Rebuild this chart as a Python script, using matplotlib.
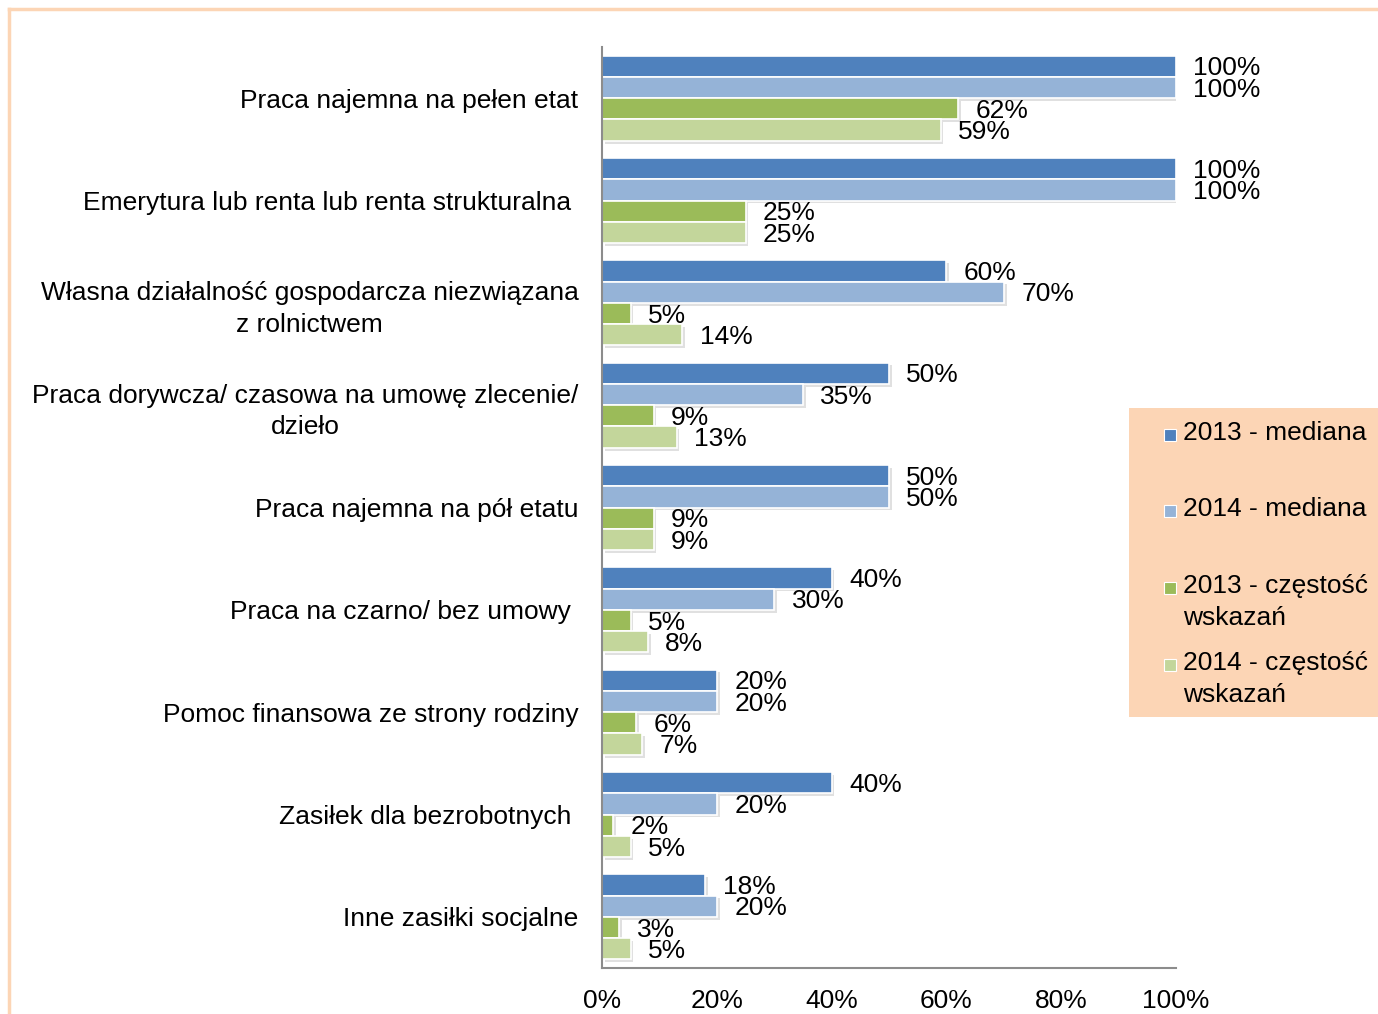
import numpy as np
import matplotlib
matplotlib.use("Agg")
import matplotlib.pyplot as plt
import matplotlib.patheffects as pe
from matplotlib.patches import Rectangle
from matplotlib.lines import Line2D

plt.rcParams['font.family'] = ['Liberation Sans', 'DejaVu Sans']

# data
categories = [
    "Praca najemna na pełen etat",
    "Emerytura lub renta lub renta strukturalna ",
    "Własna działalność gospodarcza niezwiązana\nz rolnictwem",
    "Praca dorywcza/ czasowa na umowę zlecenie/\ndzieło",
    "Praca najemna na pół etatu",
    "Praca na czarno/ bez umowy ",
    "Pomoc finansowa ze strony rodziny",
    "Zasiłek dla bezrobotnych ",
    "Inne zasiłki socjalne",
]
series_names = ["2013 - mediana", "2014 - mediana",
                "2013 - częstość\nwskazań", "2014 - częstość\nwskazań"]
mediana_2013 = [100, 100, 60, 50, 50, 40, 20, 40, 18]
mediana_2014 = [100, 100, 70, 35, 50, 30, 20, 20, 20]
czestosc_2013 = [62, 25, 5, 9, 9, 5, 6, 2, 3]
czestosc_2014 = [59, 25, 14, 13, 9, 8, 7, 5, 5]
xticks = [0, 20, 40, 60, 80, 100]

colors = ["#4F81BD", "#95B3D7", "#9BBB59", "#C3D69B"]
all_series = [mediana_2013, mediana_2014, czestosc_2013, czestosc_2014]
fs = 19

fig = plt.figure(figsize=(13.78, 10.14), dpi=100)
ax = fig.add_axes([602/1378, 1-968/1014, 574/1378, 921/1014])

y = np.arange(len(categories))
h = 0.208
shadow = [pe.SimplePatchShadow(offset=(2, -2), shadow_rgbFace="#9a9a9a", alpha=0.3), pe.Normal()]

for k, vals in enumerate(all_series):
    pos = y + (k - 1.5) * h
    bars = ax.barh(pos, vals, height=h, color=colors[k], edgecolor="white", linewidth=1.2)
    for b in bars:
        b.set_path_effects(shadow)
    for p, v in zip(pos, vals):
        ax.annotate(f"{v}%", (v, p), xytext=(12.5, -1.5), textcoords="offset points",
                    ha="left", va="center", fontsize=fs)

ax.set_ylim(len(categories) - 0.5, -0.5)
ax.set_xlim(0, 100)
ax.set_yticks(y)
ax.set_yticklabels(categories, fontsize=fs, multialignment="center", linespacing=1.4)
ax.set_xticks(xticks)
ax.set_xticklabels([f"{t}%" for t in xticks], fontsize=fs)
ax.tick_params(axis="y", length=0, pad=17)
ax.tick_params(axis="x", length=0, pad=15)
for s in ["top", "right"]:
    ax.spines[s].set_visible(False)
for s in ["left", "bottom"]:
    ax.spines[s].set_color("#8c8c8c")
    ax.spines[s].set_linewidth(1.5)

# legend box drawn by hand to keep Excel-like even slots
fig.patches.append(Rectangle((1129/1378, 1-717/1014), 249/1378, 309/1014,
                             transform=fig.transFigure, facecolor="#FCD5B5", edgecolor="none", zorder=0))
legend_y = [433, 509, 586, 663]
for k, name in enumerate(series_names):
    yy = legend_y[k]
    fig.patches.append(Rectangle((1164/1378, 1-(yy+8)/1014), 12/1378, 12/1014,
                                 transform=fig.transFigure, facecolor=colors[k],
                                 edgecolor="white", linewidth=0.8, zorder=2))
    fig.text(1183/1378, 1-(yy-12)/1014, name, fontsize=fs, ha="left", va="top",
             linespacing=1.4)

# outer frame lines (top and left)
fig.add_artist(Line2D([9/1378, 1], [1-9/1014, 1-9/1014], transform=fig.transFigure,
                      color="#FCD5B5", linewidth=2.5))
fig.add_artist(Line2D([9/1378, 9/1378], [0, 1-9/1014], transform=fig.transFigure,
                      color="#FCD5B5", linewidth=2.5))

fig.savefig("out.png", dpi=100)
